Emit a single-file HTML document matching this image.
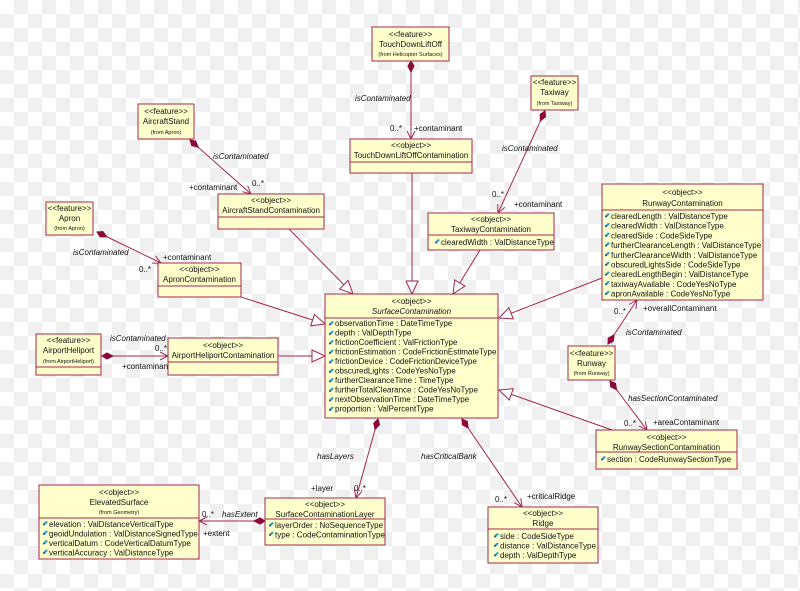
<!DOCTYPE html>
<html><head><meta charset="utf-8"><style>
html,body{margin:0;padding:0}
body{width:800px;height:591px;overflow:hidden;background-color:#fff;
background-image:conic-gradient(#f0f0f0 25%,#fff 0 50%,#f0f0f0 0 75%,#fff 0);background-size:28px 28px;}
svg{position:absolute;left:0;top:0}
text{font-family:"Liberation Sans",sans-serif;font-size:8px;fill:#111}
.s{font-size:5.5px}
.i{font-style:italic}
.b{fill:#ffffcc;stroke:#a3284f;stroke-width:1}
.l{stroke:#a3284f;stroke-width:1;fill:none}
.d{fill:#8b0a3a;stroke:#8b0a3a}
.t{fill:#fff;stroke:#a3284f;stroke-width:1}
</style></head><body>
<svg width="800" height="591" viewBox="0 0 800 591">
<defs>
<marker id="oa" markerWidth="10" markerHeight="10" refX="9" refY="5" orient="auto" markerUnits="userSpaceOnUse"><path d="M1,1 L9,5 L1,9" fill="none" stroke="#a3284f"/></marker>
<marker id="tr" markerWidth="16" markerHeight="16" refX="14" refY="7" orient="auto" markerUnits="userSpaceOnUse"><path d="M1,1 L14,7 L1,13 Z" fill="#fff" stroke="#a3284f"/></marker>
<marker id="dm" markerWidth="14" markerHeight="10" refX="1" refY="5" orient="auto" markerUnits="userSpaceOnUse"><path d="M1,5 L6,2 L12,5 L6,8 Z" fill="#8b0a3a" stroke="#8b0a3a"/></marker>
<g id="ic"><path d="M0,3 L3,0 L5,1 L2,4 Z" fill="#1aa7c8"/><circle cx="1" cy="3.5" r="1" fill="#2a4a9a"/></g>
</defs>

<!-- connectors -->
<line class="l" x1="411" y1="61" x2="411" y2="139" marker-start="url(#dm)" marker-end="url(#oa)"/>
<line class="l" x1="545" y1="111" x2="498" y2="213" marker-start="url(#dm)" marker-end="url(#oa)"/>
<line class="l" x1="190" y1="140" x2="251" y2="194" marker-start="url(#dm)" marker-end="url(#oa)"/>
<line class="l" x1="97" y1="232" x2="161" y2="263" marker-start="url(#dm)" marker-end="url(#oa)"/>
<line class="l" x1="102" y1="356" x2="168" y2="356" marker-start="url(#dm)" marker-end="url(#oa)"/>
<line class="l" x1="608" y1="344" x2="637" y2="300" marker-start="url(#dm)" marker-end="url(#oa)"/>
<line class="l" x1="610" y1="381" x2="647" y2="430" marker-start="url(#dm)" marker-end="url(#oa)"/>
<line class="l" x1="378" y1="419" x2="356" y2="498" marker-start="url(#dm)" marker-end="url(#oa)"/>
<line class="l" x1="462" y1="419" x2="522" y2="507" marker-start="url(#dm)" marker-end="url(#oa)"/>
<line class="l" x1="265" y1="521" x2="199" y2="521" marker-start="url(#dm)" marker-end="url(#oa)"/>

<line class="l" x1="289" y1="229" x2="353" y2="294" marker-end="url(#tr)"/>
<line class="l" x1="412" y1="173" x2="412" y2="294" marker-end="url(#tr)"/>
<line class="l" x1="480" y1="250" x2="453" y2="294" marker-end="url(#tr)"/>
<line class="l" x1="241" y1="297" x2="325" y2="324" marker-end="url(#tr)"/>
<line class="l" x1="278" y1="356" x2="325" y2="356" marker-end="url(#tr)"/>
<line class="l" x1="602" y1="278" x2="499" y2="318" marker-end="url(#tr)"/>
<line class="l" x1="612" y1="430" x2="499" y2="390" marker-end="url(#tr)"/>

<!-- labels -->
<text class="i" x="355" y="101">isContaminated</text>
<text x="390" y="131">0..*</text><text x="414" y="131">+contaminant</text>
<text class="i" x="502" y="151">isContaminated</text>
<text x="492" y="197">0..*</text><text x="514" y="207">+contaminant</text>
<text class="i" x="213" y="159">isContaminated</text>
<text x="189" y="190">+contaminant</text><text x="252" y="186">0..*</text>
<text class="i" x="73" y="255">isContaminated</text>
<text x="163" y="260">+contaminant</text><text x="139" y="272">0..*</text>
<text class="i" x="110" y="341">isContaminated</text>
<text x="155" y="351">0..*</text><text x="122" y="369">+contaminant</text>
<text x="614" y="314">0..*</text><text x="643" y="311">+overallContaminant</text>
<text class="i" x="626" y="335">isContaminated</text>
<text class="i" x="628" y="401">hasSectionContaminated</text>
<text x="624" y="426">0..*</text><text x="653" y="425">+areaContaminant</text>
<text class="i" x="317" y="459">hasLayers</text>
<text x="311" y="491">+layer</text><text x="354" y="491">0..*</text>
<text class="i" x="421" y="459">hasCriticalBank</text>
<text x="495" y="502">0..*</text><text x="527" y="499">+criticalRidge</text>
<text class="i" x="222" y="517">hasExtent</text>
<text x="202" y="517">0..*</text><text x="203" y="536">+extent</text>

<!-- TouchDownLiftOff -->
<rect class="b" x="372" y="27" width="77" height="34"/>
<text x="410.5" y="37" text-anchor="middle">&lt;&lt;feature&gt;&gt;</text>
<text x="410.5" y="47" text-anchor="middle">TouchDownLiftOff</text>
<text class="s" x="410.5" y="56" text-anchor="middle">(from Helicopter Surfaces)</text>

<!-- TDLOC -->
<rect class="b" x="350" y="139" width="122" height="34"/>
<line class="l" x1="350" y1="162" x2="472" y2="162"/>
<text x="411" y="148" text-anchor="middle">&lt;&lt;object&gt;&gt;</text>
<text x="411" y="158" text-anchor="middle">TouchDownLiftOffContamination</text>

<!-- Taxiway -->
<rect class="b" x="531" y="76" width="47" height="34"/>
<text x="554.5" y="85" text-anchor="middle">&lt;&lt;feature&gt;&gt;</text>
<text x="554.5" y="95" text-anchor="middle">Taxiway</text>
<text class="s" x="554.5" y="105" text-anchor="middle">(from Taxiway)</text>

<!-- TaxiwayC -->
<rect class="b" x="428" y="213" width="126" height="37"/>
<line class="l" x1="428" y1="235" x2="554" y2="235"/>
<text x="491" y="222" text-anchor="middle">&lt;&lt;object&gt;&gt;</text>
<text x="491" y="232" text-anchor="middle">TaxiwayContamination</text>
<use href="#ic" x="435" y="239"/><text x="441" y="245">clearedWidth : ValDistanceType</text>

<!-- AircraftStand -->
<rect class="b" x="138" y="104" width="56" height="35"/>
<text x="166" y="114" text-anchor="middle">&lt;&lt;feature&gt;&gt;</text>
<text x="166" y="124" text-anchor="middle">AircraftStand</text>
<text class="s" x="166" y="134" text-anchor="middle">(from Apron)</text>

<!-- AircraftStandC -->
<rect class="b" x="218" y="194" width="106" height="35"/>
<line class="l" x1="218" y1="217" x2="324" y2="217"/>
<text x="271" y="203" text-anchor="middle">&lt;&lt;object&gt;&gt;</text>
<text x="271" y="213" text-anchor="middle">AircraftStandContamination</text>

<!-- Apron -->
<rect class="b" x="46" y="202" width="47" height="33"/>
<text x="69.5" y="211" text-anchor="middle">&lt;&lt;feature&gt;&gt;</text>
<text x="69.5" y="221" text-anchor="middle">Apron</text>
<text class="s" x="69.5" y="230" text-anchor="middle">(from Apron)</text>

<!-- ApronC -->
<rect class="b" x="158" y="263" width="83" height="34"/>
<line class="l" x1="158" y1="286" x2="241" y2="286"/>
<text x="199.5" y="272" text-anchor="middle">&lt;&lt;object&gt;&gt;</text>
<text x="199.5" y="282" text-anchor="middle">ApronContamination</text>

<!-- AirportHeliport -->
<rect class="b" x="36" y="334" width="65" height="41"/>
<line class="l" x1="36" y1="367" x2="101" y2="367"/>
<text x="68.5" y="343" text-anchor="middle">&lt;&lt;feature&gt;&gt;</text>
<text x="68.5" y="353" text-anchor="middle">AirportHeliport</text>
<text class="s" x="68.5" y="363" text-anchor="middle">(from AirportHeliport)</text>

<!-- AirportHeliportC -->
<rect class="b" x="168" y="338" width="110" height="37"/>
<line class="l" x1="168" y1="362" x2="278" y2="362"/>
<text x="223" y="348" text-anchor="middle">&lt;&lt;object&gt;&gt;</text>
<text x="223" y="358" text-anchor="middle">AirportHeliportContamination</text>

<!-- SurfaceContamination -->
<rect class="b" x="325" y="294" width="173" height="124"/>
<line class="l" x1="325" y1="318" x2="498" y2="318"/>
<text x="411.5" y="304" text-anchor="middle">&lt;&lt;object&gt;&gt;</text>
<text class="i" x="411.5" y="314" text-anchor="middle">SurfaceContamination</text>
<g>
<use href="#ic" x="329" y="321"/><text x="335" y="326">observationTime : DateTimeType</text>
<use href="#ic" x="329" y="330.5"/><text x="335" y="335.5">depth : ValDepthType</text>
<use href="#ic" x="329" y="340"/><text x="335" y="345">frictionCoefficient : ValFrictionType</text>
<use href="#ic" x="329" y="349.5"/><text x="335" y="354.5">frictionEstimation : CodeFrictionEstimateType</text>
<use href="#ic" x="329" y="359"/><text x="335" y="364">frictionDevice : CodeFrictionDeviceType</text>
<use href="#ic" x="329" y="368.5"/><text x="335" y="373.5">obscuredLights : CodeYesNoType</text>
<use href="#ic" x="329" y="378"/><text x="335" y="383">furtherClearanceTime : TimeType</text>
<use href="#ic" x="329" y="387.5"/><text x="335" y="392.5">furtherTotalClearance : CodeYesNoType</text>
<use href="#ic" x="329" y="397"/><text x="335" y="402">nextObservationTime : DateTimeType</text>
<use href="#ic" x="329" y="406.5"/><text x="335" y="411.5">proportion : ValPercentType</text>
</g>

<!-- RunwayContamination -->
<rect class="b" x="602" y="184" width="161" height="116"/>
<line class="l" x1="602" y1="210" x2="763" y2="210"/>
<text x="682.5" y="195" text-anchor="middle">&lt;&lt;object&gt;&gt;</text>
<text x="682.5" y="206" text-anchor="middle">RunwayContamination</text>
<g>
<use href="#ic" x="605" y="213"/><text x="611" y="219">clearedLength : ValDistanceType</text>
<use href="#ic" x="605" y="222.7"/><text x="611" y="228.7">clearedWidth : ValDistanceType</text>
<use href="#ic" x="605" y="232.4"/><text x="611" y="238.4">clearedSide : CodeSideType</text>
<use href="#ic" x="605" y="242.1"/><text x="611" y="248.1">furtherClearanceLength : ValDistanceType</text>
<use href="#ic" x="605" y="251.8"/><text x="611" y="257.8">furtherClearanceWidth : ValDistanceType</text>
<use href="#ic" x="605" y="261.5"/><text x="611" y="267.5">obscuredLightsSide : CodeSideType</text>
<use href="#ic" x="605" y="271.2"/><text x="611" y="277.2">clearedLengthBegin : ValDistanceType</text>
<use href="#ic" x="605" y="280.9"/><text x="611" y="286.9">taxiwayAvailable : CodeYesNoType</text>
<use href="#ic" x="605" y="290.6"/><text x="611" y="296.6">apronAvailable : CodeYesNoType</text>
</g>

<!-- Runway -->
<rect class="b" x="568" y="346" width="47" height="34"/>
<text x="591.5" y="356" text-anchor="middle">&lt;&lt;feature&gt;&gt;</text>
<text x="591.5" y="366" text-anchor="middle">Runway</text>
<text class="s" x="591.5" y="375" text-anchor="middle">(from Runway)</text>

<!-- RunwaySectionC -->
<rect class="b" x="596" y="430" width="141" height="39"/>
<line class="l" x1="596" y1="452" x2="737" y2="452"/>
<text x="666.5" y="440" text-anchor="middle">&lt;&lt;object&gt;&gt;</text>
<text x="666.5" y="450" text-anchor="middle">RunwaySectionContamination</text>
<use href="#ic" x="601" y="456"/><text x="607" y="462">section : CodeRunwaySectionType</text>

<!-- Ridge -->
<rect class="b" x="488" y="507" width="110" height="56"/>
<line class="l" x1="488" y1="529" x2="598" y2="529"/>
<text x="543" y="516" text-anchor="middle">&lt;&lt;object&gt;&gt;</text>
<text x="543" y="526" text-anchor="middle">Ridge</text>
<use href="#ic" x="494" y="533"/><text x="500" y="539">side : CodeSideType</text>
<use href="#ic" x="494" y="542.5"/><text x="500" y="548.5">distance : ValDistanceType</text>
<use href="#ic" x="494" y="552"/><text x="500" y="558">depth : ValDepthType</text>

<!-- ElevatedSurface -->
<rect class="b" x="39" y="485" width="160" height="74"/>
<line class="l" x1="39" y1="518" x2="199" y2="518"/>
<text x="119" y="495" text-anchor="middle">&lt;&lt;object&gt;&gt;</text>
<text x="119" y="505" text-anchor="middle">ElevatedSurface</text>
<text class="s" x="119" y="514" text-anchor="middle">(from Geometry)</text>
<use href="#ic" x="43" y="521"/><text x="49" y="527">elevation : ValDistanceVerticalType</text>
<use href="#ic" x="43" y="530.5"/><text x="49" y="536.5">geoidUndulation : ValDistanceSignedType</text>
<use href="#ic" x="43" y="540"/><text x="49" y="546">verticalDatum : CodeVerticalDatumType</text>
<use href="#ic" x="43" y="549.5"/><text x="49" y="555.5">verticalAccuracy : ValDistanceType</text>

<!-- SurfaceContaminationLayer -->
<rect class="b" x="265" y="498" width="120" height="47"/>
<line class="l" x1="265" y1="519" x2="385" y2="519"/>
<text x="325" y="507" text-anchor="middle">&lt;&lt;object&gt;&gt;</text>
<text x="325" y="517" text-anchor="middle">SurfaceContaminationLayer</text>
<use href="#ic" x="269" y="522"/><text x="275" y="528">layerOrder : NoSequenceType</text>
<use href="#ic" x="269" y="531.5"/><text x="275" y="537.5">type : CodeContaminationType</text>
</svg>
</body></html>
